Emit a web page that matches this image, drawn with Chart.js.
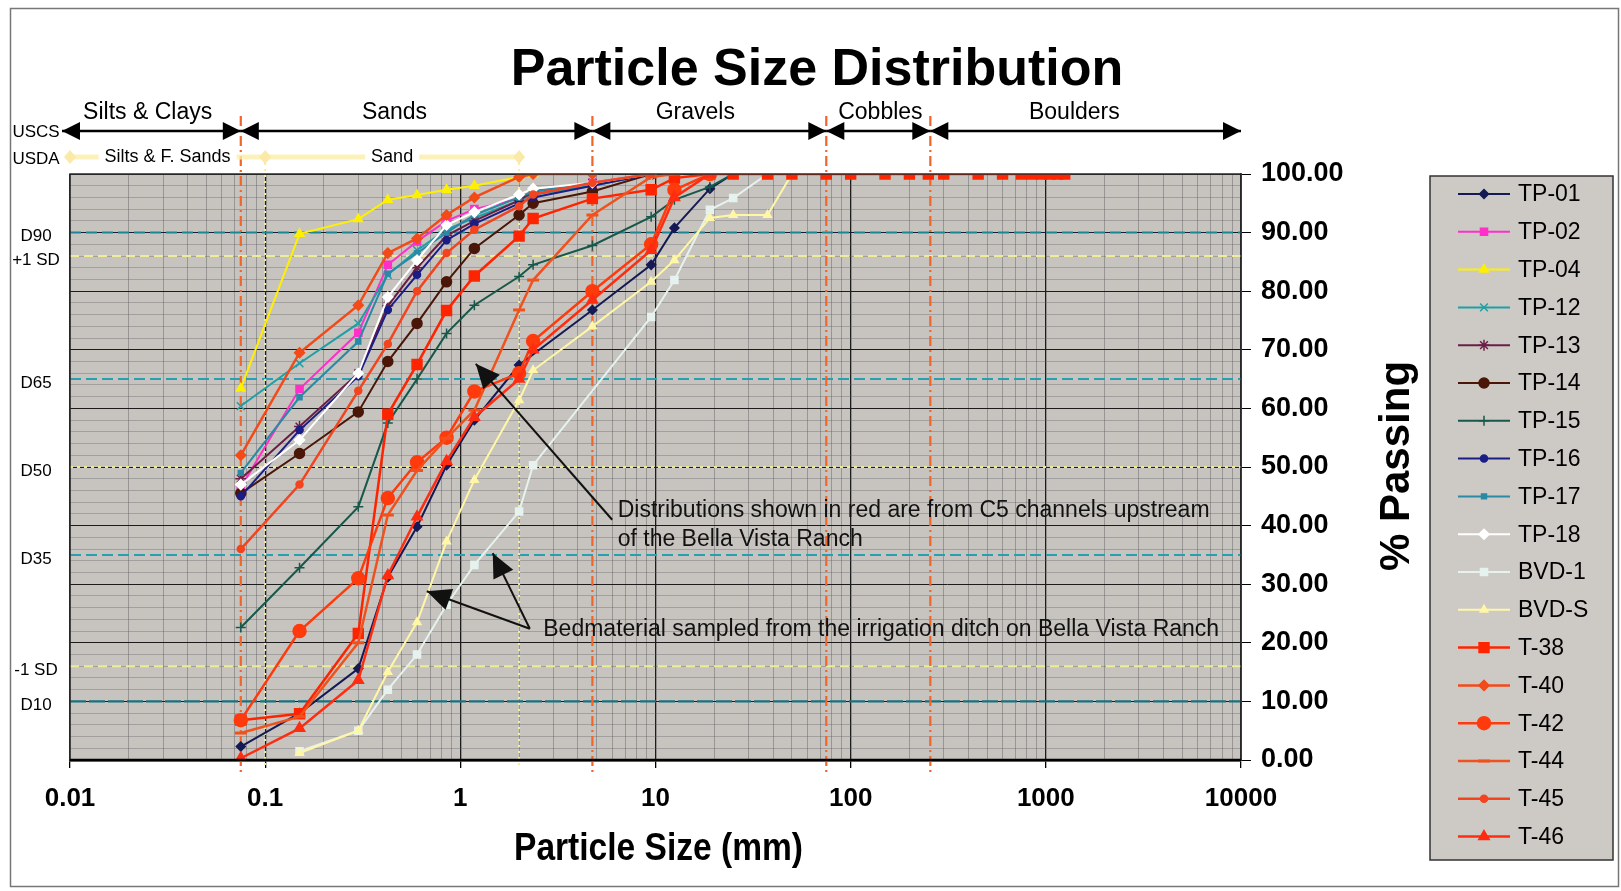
<!DOCTYPE html>
<html>
<head>
<meta charset="utf-8">
<script src="https://cdn.jsdelivr.net/npm/chart.js@4.4.1/dist/chart.umd.min.js"></script>
<style>
html,body{margin:0;padding:0;background:#fff;}
#wrap{position:relative;width:1621px;height:891px;}
canvas{display:block;}
</style>
</head>
<body>
<div id="wrap"><canvas id="c" width="1621" height="891"></canvas></div>
<script>
// ---------------- DATA ----------------
const sieveSizes = [0.075, 0.15, 0.3, 0.425, 0.6, 0.85, 1.18, 2, 2.36, 4.75, 9.5, 12.5, 19, 25, 37.5, 50, 75,
                    100, 150, 200, 250, 300, 450, 600, 750, 850, 950, 1050, 1150, 1250];

const tp01 = [2.3, 8, 15.6, 31.2, 39.8, 50.3, 58, 67.4, null, 76.8, 84.5, 90.8, 97.5, 100];
const tp02 = [46.5, 63.3, 72.9, 84.5, 88.5, 92, 94, 95.8, 96.5, 98.5, 100];
const tp04 = [63.4, 89.8, 92.3, 95.6, 96.4, 97.3, 98, 99.5, 100];
const tp12 = [60.4, 67.7, 74.5, 82.8, 87, 90.5, 92.5, 95.5, 96.5, 98, 100];
const tp13 = [48, 56.9, 66, 77.5, 84, 89.5, 92, 95.5, 97, 98.5, 100];
const tp14 = [45.5, 52.3, 59.4, 68, 74.5, 81.6, 87.3, 93, 95, 97, 100];
const tp15 = [22.6, 32.8, 43.2, 57.5, 65, 72.8, 77.6, 82.5, 84.5, 87.8, 92.7, 95.6, 97.8, 100];
const tp16 = [45, 56.3, 65.5, 76.8, 82.8, 88.7, 91.5, 95, 96, 98, 100];
const tp17 = [49, 61.9, 71.4, 83, 86.5, 90, 93, 96, 97, 98.5, 100];
const tp18 = [47, 54.6, 66, 79, 85.3, 91.3, 93.5, 96.5, 97.5, 98.5, 100];
const bvd1 = [null, 1.5, 5, 12, 18, 26.5, 33.3, 42.4, 50.3, null, 75.6, 81.9, 93.9, 95.9, 100];
const bvdS = [null, 1.2, 5, 15, 23.5, 37.3, 47.8, 61.4, 66.5, 74, 81.6, 85.3, 92.5, 93, 93, 100];
const t38  = [6.8, 7.9, 21.6, 59, 67.5, 76.7, 82.6, 89.4, 92.4, 95.8, 97.3, 99.3,
              100, 100, 100, 100, 100, 100, 100, 100, 100, 100, 100, 100, 100, 100, 100, 100, 100, 100];
const t40  = [52, 69.5, 77.6, 86.5, 89, 93, 96, 99.5, 100, 100];
const t42  = [6.8, 22, 31, 44.7, 50.8, 55, 62.9, 66, 71.5, 80, 88, 97.3, 100];
const t44  = [4.6, 7.4, 20, 41.8, 49.4, 54.9, 59.7, 76.8, 81.9, 93, 99.5, 100];
const t45  = [36, 47, 63, 71, 80, 86.5, 90.5, 94.5, 96.5, 98.5, 100];
const t46  = [0.3, 5.4, 13.6, 31.5, 41.5, 51, 58.5, 65, 70, 78.5, 87, 96, 100];

const seriesLabels = ['TP-01','TP-02','TP-04','TP-12','TP-13','TP-14','TP-15','TP-16','TP-17','TP-18',
                      'BVD-1','BVD-S','T-38','T-40','T-42','T-44','T-45','T-46'];
const seriesValues = [tp01, tp02, tp04, tp12, tp13, tp14, tp15, tp16, tp17, tp18, bvd1, bvdS, t38, t40, t42, t44, t45, t46];

const xDecades = [0.01, 0.1, 1, 10, 100, 1000, 10000];
const xTickLabels = ['0.01', '0.1', '1', '10', '100', '1000', '10000'];
const yMajorTicks = [0, 10, 20, 30, 40, 50, 60, 70, 80, 90, 100];

const refLevels = [90, 86, 65, 50, 35, 16, 10];
const refLabels = ['D90', '+1 SD', 'D65', 'D50', 'D35', '-1 SD', 'D10'];
const uscsBounds = [0.01, 0.075, 4.75, 75, 256, 10000];
const uscsLabels = ['Silts & Clays', 'Sands', 'Gravels', 'Cobbles', 'Boulders'];
const usdaBounds = [0.01, 0.1, 2];
const usdaLabels = ['Silts & F. Sands', 'Sand'];

const titleText = 'Particle Size Distribution';
const xTitleText = 'Particle Size (mm)';
const yTitleText = '% Passing';
const noteRedLines = ['Distributions shown in red are from C5 channels upstream', 'of the Bella Vista Ranch'];
const noteBedText = 'Bedmaterial sampled from the irrigation ditch on Bella Vista Ranch';

// ---------------- LAYOUT CONFIG (data units: [mm, %]) ----------------
const uscsLabelAt = [0.025, 0.46, 16, 142, 1400];
const noteRedAnchor = [6.4, 42.6];
const noteBedAnchor = [2.66, 22.3];
const arrowRed = [[6.0, 41], [1.2, 67.6]];
const arrowBed = [[[2.27, 22.4], [0.673, 28.8]], [[2.27, 22.4], [1.466, 35.3]]];

// ---------------- STYLES ----------------
const FONT = '"Liberation Sans", Arial, sans-serif';
const PLOT_BG = '#c7c4c0';
const seriesStyles = [
  {color:'#151a55', point:'rectRot', r:4.5},
  {color:'#ff2fc8', point:'rect', r:5},
  {color:'#fff000', point:'triangle', r:5},
  {color:'#1f9fa5', point:'crossRot', r:5.5, w:2},
  {color:'#6a1e44', point:'star', r:5.5},
  {color:'#4a1608', point:'circle', r:5},
  {color:'#17584a', point:'cross', r:5},
  {color:'#1b1d86', point:'circle', r:3.5},
  {color:'#2a8aa5', point:'rect', r:3.5},
  {color:'#ffffff', point:'rectRot', r:5},
  {color:'#e6f2ee', point:'rect', r:5},
  {color:'#fff7a6', point:'triangle', r:4.5},
  {color:'#ff2400', point:'rect', r:7, w:2.5},
  {color:'#f24a18', point:'rectRot', r:5, w:2.5},
  {color:'#ff3a0c', point:'circle', r:6.5, w:2.5},
  {color:'#f0521e', point:'line', r:6, w:2.5},
  {color:'#f2441e', point:'circle', r:3.5, w:2.5},
  {color:'#ff2c10', point:'triangle', r:6, w:2.5}
];

const datasets = seriesLabels.map((label, i) => {
  const st = seriesStyles[i];
  const pts = [];
  seriesValues[i].forEach((v, k) => { if (v !== null && v !== undefined) pts.push({x: sieveSizes[k], y: v}); });
  return {
    label, data: pts,
    borderColor: st.color, backgroundColor: st.color,
    pointBackgroundColor: st.color, pointBorderColor: st.color,
    pointStyle: st.point, pointRadius: st.r, pointBorderWidth: st.point === 'line' ? 3 : 1.5,
    borderWidth: st.w || 2, tension: 0, order: -i
  };
});

function isDecade(v){ const l = Math.log10(v); return Math.abs(l - Math.round(l)) < 1e-6; }

function arrowHead(ctx, x1, y1, x2, y2, len, half){
  const a = Math.atan2(y2 - y1, x2 - x1);
  ctx.beginPath();
  ctx.moveTo(x2, y2);
  ctx.lineTo(x2 - len*Math.cos(a) + half*Math.sin(a), y2 - len*Math.sin(a) - half*Math.cos(a));
  ctx.lineTo(x2 - len*Math.cos(a) - half*Math.sin(a), y2 - len*Math.sin(a) + half*Math.cos(a));
  ctx.closePath();
  ctx.fill();
}

function drawMarker(ctx, ds, x, y){
  ctx.fillStyle = ds.pointBackgroundColor; ctx.strokeStyle = ds.pointBorderColor;
  ctx.lineWidth = ds.pointBorderWidth;
  if (Chart.helpers && Chart.helpers.drawPoint) {
    Chart.helpers.drawPoint(ctx, {pointStyle: ds.pointStyle, rotation: 0, radius: ds.pointRadius, borderWidth: ds.pointBorderWidth}, x, y);
  } else {
    ctx.beginPath(); ctx.arc(x, y, ds.pointRadius, 0, Math.PI*2); ctx.fill();
  }
}

const decor = {
  id: 'decor',
  beforeDraw(chart){
    const {ctx, chartArea: a} = chart;
    ctx.save();
    ctx.fillStyle = '#fff'; ctx.fillRect(0, 0, chart.width, chart.height);
    ctx.fillStyle = PLOT_BG; ctx.fillRect(a.left, a.top, a.right - a.left, a.bottom - a.top);
    ctx.restore();
  },
  beforeDatasetsDraw(chart){
    const {ctx, chartArea: a, scales: {x, y}} = chart;
    ctx.save();
    const refStyles = [
      {c:'#1d8696', d:[11,5], w:2},
      {c:'#eeee9a', d:[9,5], w:2},
      {c:'#2a9fb4', d:[11,5], w:2},
      {c:'#ecec8c', d:[3,4], w:2},
      {c:'#2a9fb4', d:[11,5], w:2},
      {c:'#ecec9a', d:[9,5], w:2},
      {c:'#17717f', d:[16,3], w:2.2}
    ];
    refLevels.forEach((lv, i) => {
      const py = y.getPixelForValue(lv);
      ctx.strokeStyle = refStyles[i].c; ctx.lineWidth = refStyles[i].w; ctx.setLineDash(refStyles[i].d);
      ctx.beginPath(); ctx.moveTo(a.left, py); ctx.lineTo(a.right, py); ctx.stroke();
    });
    ctx.setLineDash([2,4]); ctx.lineWidth = 2; ctx.strokeStyle = '#f2f0a0';
    usdaBounds.slice(1).forEach(b => {
      const px = x.getPixelForValue(b);
      ctx.beginPath(); ctx.moveTo(px, 157); ctx.lineTo(px, a.bottom + 6); ctx.stroke();
    });
    ctx.setLineDash([10,4,2,4]); ctx.lineWidth = 2.2; ctx.strokeStyle = '#f0662a';
    uscsBounds.slice(1, -1).forEach(b => {
      const px = x.getPixelForValue(b);
      ctx.beginPath(); ctx.moveTo(px, 116); ctx.lineTo(px, a.bottom + 16); ctx.stroke();
    });
    ctx.restore();
  },
  afterDatasetsDraw(chart){
    const {ctx, scales: {x, y}} = chart;
    ctx.save();
    ctx.setLineDash([]);
    ctx.strokeStyle = '#111'; ctx.fillStyle = '#111'; ctx.lineWidth = 2;
    const P = p => [x.getPixelForValue(p[0]), y.getPixelForValue(p[1])];
    const arrows = [arrowRed].concat(arrowBed);
    arrows.forEach(ar => {
      const [x1, y1] = P(ar[0]), [x2, y2] = P(ar[1]);
      ctx.beginPath(); ctx.moveTo(x1, y1); ctx.lineTo(x2, y2); ctx.stroke();
      arrowHead(ctx, x1, y1, x2, y2, 24, 11);
    });
    ctx.font = '23px ' + FONT; ctx.textBaseline = 'middle'; ctx.textAlign = 'left';
    const [nx, ny] = P(noteRedAnchor);
    ctx.fillText(noteRedLines[0], nx, ny);
    ctx.fillText(noteRedLines[1], nx, ny + 29);
    const [bx, by] = P(noteBedAnchor);
    ctx.fillText(noteBedText, bx, by);
    ctx.restore();
  },
  afterDraw(chart){
    const {ctx, chartArea: a, scales: {x, y}} = chart;
    ctx.save();
    ctx.setLineDash([]);
    ctx.strokeStyle = '#2a2a2a'; ctx.lineWidth = 1.5;
    ctx.strokeRect(a.left, a.top, a.right - a.left, a.bottom - a.top);
    ctx.strokeStyle = '#000'; ctx.lineWidth = 2.5;
    ctx.beginPath(); ctx.moveTo(a.left, a.bottom); ctx.lineTo(a.right, a.bottom); ctx.stroke();
    ctx.strokeStyle = '#777'; ctx.lineWidth = 1.5;
    ctx.strokeRect(10.5, 8.5, 1608, 878);
    // title
    ctx.fillStyle = '#000'; ctx.textAlign = 'center'; ctx.textBaseline = 'middle';
    ctx.font = 'bold 52px ' + FONT;
    ctx.fillText(titleText, 817, 71);
    // x title (condensed look)
    ctx.save();
    ctx.translate((a.left + a.right) / 2 + 3, 849);
    ctx.scale(0.86, 1);
    ctx.font = 'bold 39px ' + FONT;
    ctx.fillText(xTitleText, 0, 0);
    ctx.restore();
    // y title
    ctx.save();
    ctx.translate(1397, 466); ctx.rotate(-Math.PI/2);
    ctx.font = 'bold 42px ' + FONT;
    ctx.fillText(yTitleText, 0, 0);
    ctx.restore();
    // USCS row
    const rowY = 131;
    ctx.strokeStyle = '#000'; ctx.fillStyle = '#000'; ctx.lineWidth = 2.5;
    for (let i = 0; i < uscsLabels.length; i++) {
      let x1 = x.getPixelForValue(uscsBounds[i]);
      const x2 = x.getPixelForValue(uscsBounds[i+1]);
      if (i === 0) x1 -= 8;
      ctx.beginPath(); ctx.moveTo(x1, rowY); ctx.lineTo(x2, rowY); ctx.stroke();
      arrowHead(ctx, x2, rowY, x1, rowY, 18, 9);
      arrowHead(ctx, x1, rowY, x2, rowY, 18, 9);
      ctx.font = '23px ' + FONT; ctx.textAlign = 'center'; ctx.textBaseline = 'middle';
      ctx.fillText(uscsLabels[i], x.getPixelForValue(uscsLabelAt[i]), 113);
    }
    // USDA row
    const ry = 157;
    ctx.strokeStyle = 'rgba(253,238,170,0.8)'; ctx.lineWidth = 5;
    ctx.beginPath(); ctx.moveTo(x.getPixelForValue(usdaBounds[0]), ry); ctx.lineTo(x.getPixelForValue(usdaBounds[2]), ry); ctx.stroke();
    ctx.fillStyle = '#fbe9a8';
    usdaBounds.forEach(b => {
      const px = x.getPixelForValue(b);
      ctx.beginPath(); ctx.moveTo(px, ry - 7); ctx.lineTo(px + 6, ry); ctx.lineTo(px, ry + 7); ctx.lineTo(px - 6, ry); ctx.closePath(); ctx.fill();
    });
    ctx.font = '18px ' + FONT; ctx.textAlign = 'center'; ctx.textBaseline = 'middle';
    for (let i = 0; i < usdaLabels.length; i++) {
      const l1 = Math.log10(usdaBounds[i]), l2 = Math.log10(usdaBounds[i+1]);
      const cx = x.getPixelForValue(Math.pow(10, (l1 + l2) / 2));
      const w = ctx.measureText(usdaLabels[i]).width;
      ctx.fillStyle = '#fff'; ctx.fillRect(cx - w/2 - 6, ry - 11, w + 12, 22);
      ctx.fillStyle = '#000'; ctx.fillText(usdaLabels[i], cx, ry);
    }
    // left labels
    ctx.font = '17px ' + FONT; ctx.fillStyle = '#000'; ctx.textAlign = 'center';
    ctx.fillText('USCS', 36, rowY + 1);
    ctx.fillText('USDA', 36, ry + 2);
    refLevels.forEach((lv, i) => {
      ctx.fillText(refLabels[i], 36, y.getPixelForValue(lv) + 4);
    });
    // legend
    const L = {x: 1430, y: 176, w: 183, h: 684};
    ctx.fillStyle = '#cdcac6'; ctx.fillRect(L.x, L.y, L.w, L.h);
    ctx.strokeStyle = '#333'; ctx.lineWidth = 1.5; ctx.strokeRect(L.x, L.y, L.w, L.h);
    const step = 37.8;
    chart.data.datasets.forEach((ds, i) => {
      const cy = 194 + i * step;
      ctx.strokeStyle = ds.borderColor; ctx.lineWidth = ds.borderWidth;
      ctx.beginPath(); ctx.moveTo(1458, cy); ctx.lineTo(1510, cy); ctx.stroke();
      drawMarker(ctx, ds, 1484, cy);
      ctx.fillStyle = '#000'; ctx.font = '23px ' + FONT; ctx.textAlign = 'left'; ctx.textBaseline = 'middle';
      ctx.fillText(ds.label, 1518, cy + 1);
    });
    ctx.restore();
  }
};

new Chart(document.getElementById('c'), {
  type: 'line',
  data: { datasets },
  plugins: [decor],
  options: {
    responsive: false, animation: false, devicePixelRatio: 1,
    layout: { padding: {left: 70, top: 174, right: 0, bottom: 0} },
    plugins: { legend: {display: false}, tooltip: {enabled: false}, title: {display: false} },
    scales: {
      x: {
        type: 'logarithmic', position: 'bottom', min: 0.01, max: 10000,
        afterBuildTicks(scale){
          const t = [];
          xDecades.forEach((d, i) => {
            if (i === xDecades.length - 1) { t.push({value: d}); return; }
            for (let m = 1; m <= 9; m++) t.push({value: +(m * d).toPrecision(6)});
          });
          scale.ticks = t;
        },
        afterFit(scale){ scale.height = 131; },
        ticks: {
          autoSkip: false, maxRotation: 0, minRotation: 0, padding: 15, color: '#000',
          font: {family: FONT, size: 26, weight: 'bold'},
          callback(v){ const i = xDecades.findIndex(d => Math.abs(d - v) / d < 1e-6); return i >= 0 ? xTickLabels[i] : ''; }
        },
        grid: {
          color: c => (c.tick && isDecade(c.tick.value)) ? '#1c1c1c' : 'rgba(95,95,95,0.45)',
          lineWidth: c => (c.tick && isDecade(c.tick.value)) ? 1.3 : 1,
          tickColor: c => (c.tick && isDecade(c.tick.value)) ? '#000' : 'rgba(0,0,0,0)',
          tickLength: 8
        },
        border: {color: '#000', width: 2.5}
      },
      y: {
        type: 'linear', position: 'right', min: 0, max: 100,
        afterBuildTicks(scale){
          const t = [];
          yMajorTicks.forEach((v, i) => {
            t.push({value: v});
            if (i < yMajorTicks.length - 1) for (let k = 2; k < 10; k += 2) t.push({value: v + k});
          });
          scale.ticks = t;
        },
        afterFit(scale){ scale.width = 380; },
        ticks: {
          autoSkip: false, padding: 10, color: '#000',
          font: {family: FONT, size: 27, weight: 'bold'},
          callback: v => yMajorTicks.includes(v) ? v.toFixed(2) : ''
        },
        grid: {
          color: c => (c.tick && yMajorTicks.includes(c.tick.value)) ? '#1c1c1c' : 'rgba(95,95,95,0.35)',
          tickColor: c => (c.tick && yMajorTicks.includes(c.tick.value)) ? '#000' : 'rgba(0,0,0,0)',
          tickLength: 10
        },
        border: {color: '#222', width: 1.5}
      }
    }
  }
});
</script>
</body>
</html>
